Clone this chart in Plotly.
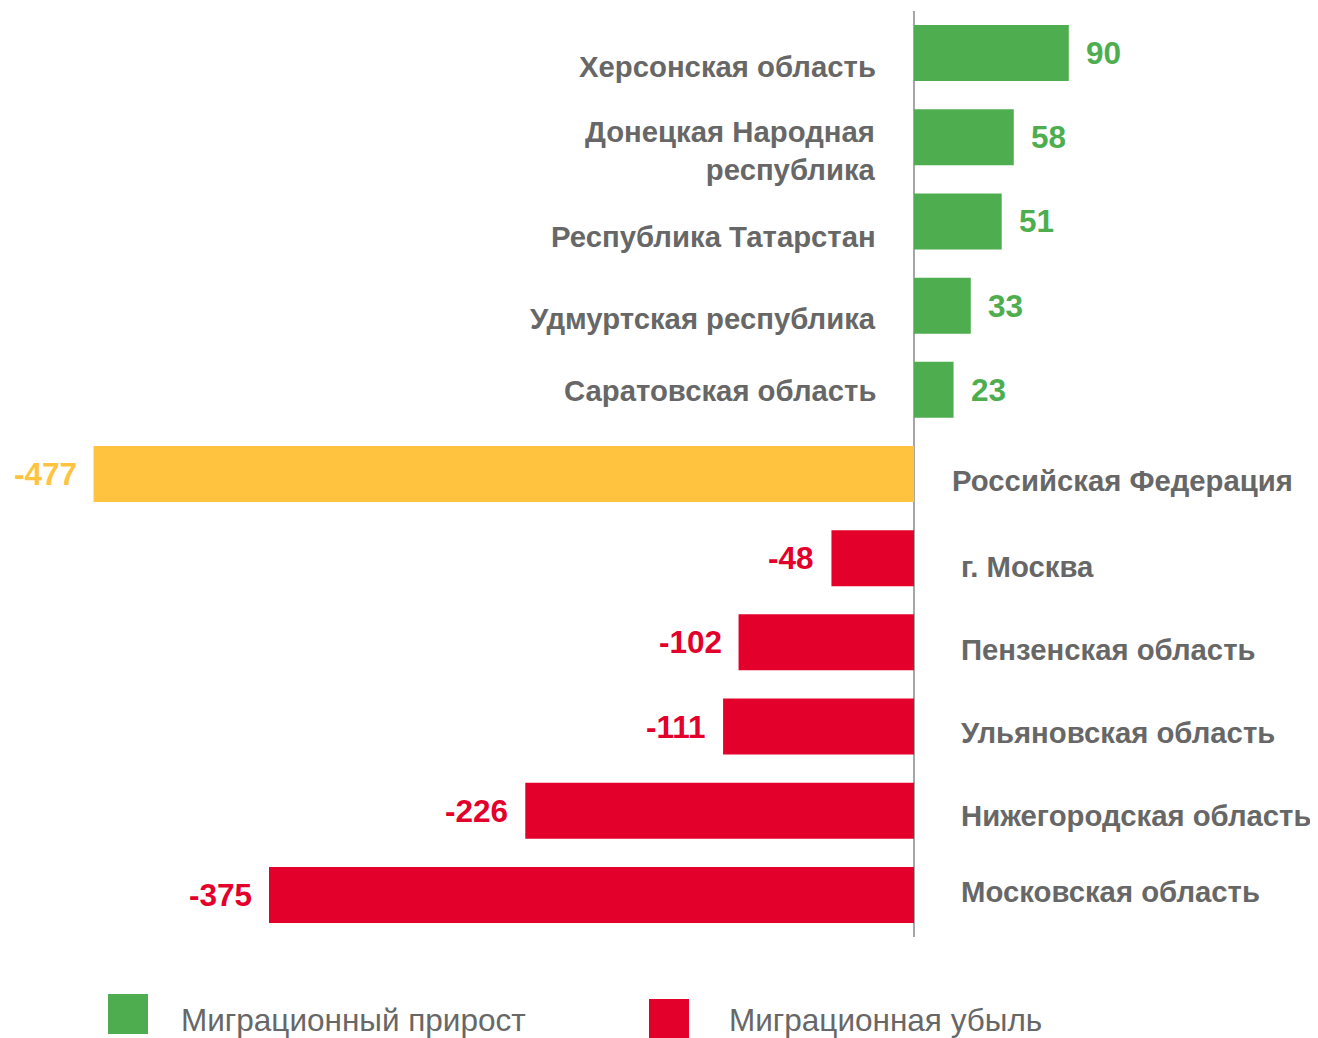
import plotly.graph_objects as go

# ---- data ----
categories = [
    "Херсонская область",
    "Донецкая Народная<br>республика",
    "Республика Татарстан",
    "Удмуртская республика",
    "Саратовская область",
    "Российская Федерация",
    "г. Москва",
    "Пензенская область",
    "Ульяновская область",
    "Нижегородская область",
    "Московская область",
]
values = [90, 58, 51, 33, 23, -477, -48, -102, -111, -226, -375]
kinds = ["gain", "gain", "gain", "gain", "gain", "total", "loss", "loss", "loss", "loss", "loss"]
legend_labels = ["Миграционный прирост", "Миграционная убыль"]

# ---- style ----
COLORS = {"gain": "#4EAE4F", "total": "#FFC340", "loss": "#E3002B"}
TEXT_GRAY = "#676767"
FONT = "Liberation Sans, Arial, sans-serif"
label_dy = [-13, -13, -15, -13, -1, -6, -8, -7, -6, -5, 3]
label_dx_neg = [0, 0, 0, 0, 0, 36, 45, 45, 45, 45, 45]

OFF = 8  # page body margin
W, H = 1318 - OFF, 1038 - OFF
plot_top, plot_bottom = 11 - OFF, 937 - OFF

fig = go.Figure()

for kind in ["gain", "total", "loss"]:
    ys = [c for c, k in zip(categories, kinds) if k == kind]
    xs = [v for v, k in zip(values, kinds) if k == kind]
    fig.add_trace(go.Bar(
        y=ys, x=xs, orientation="h", width=0.665,
        marker=dict(color=COLORS[kind], line=dict(width=0)),
        showlegend=False, hoverinfo="skip",
    ))

annotations = []
for i, (c, v, k) in enumerate(zip(categories, values, kinds)):
    pos = v > 0
    annotations.append(dict(
        x=v, y=c, xref="x", yref="y", text=f"<b>{v}</b>", showarrow=False,
        xanchor="left" if pos else "right", xshift=15 if pos else -15,
        font=dict(family=FONT, size=31.5, color=COLORS[k]),
    ))
    annotations.append(dict(
        x=0, y=c, xref="x", yref="y", text=f"<b>{c}</b>", showarrow=False,
        xanchor="right" if pos else "left", align="right" if pos else "left",
        xshift=-36 if pos else label_dx_neg[i], yshift=label_dy[i],
        font=dict(family=FONT, size=29.3, color=TEXT_GRAY),
    ))

def py(pix):
    return (plot_bottom - (pix - OFF)) / (plot_bottom - plot_top)

def px(pix):
    return (pix - OFF) / W

shapes = [
    dict(type="rect", xref="paper", yref="paper",
         x0=px(108), x1=px(148), y0=py(1034), y1=py(994),
         fillcolor=COLORS["gain"], line=dict(width=0)),
    dict(type="rect", xref="paper", yref="paper",
         x0=px(649), x1=px(689), y0=py(1038), y1=py(999),
         fillcolor=COLORS["loss"], line=dict(width=0)),
]
annotations.append(dict(x=px(179), y=py(1020), xref="paper", yref="paper",
                        text=legend_labels[0], showarrow=False,
                        xanchor="left", yanchor="middle",
                        font=dict(family=FONT, size=31.5, color=TEXT_GRAY)))
annotations.append(dict(x=px(727), y=py(1020), xref="paper", yref="paper",
                        text=legend_labels[1], showarrow=False,
                        xanchor="left", yanchor="middle",
                        font=dict(family=FONT, size=31.5, color=TEXT_GRAY)))

zero_px = 914 - OFF
scale = 1.72
fig.update_layout(
    width=W, height=H,
    margin=dict(l=0, r=0, t=plot_top, b=H - plot_bottom, pad=0),
    paper_bgcolor="white", plot_bgcolor="white",
    barmode="overlay",
    xaxis=dict(range=[-zero_px / scale, (W - zero_px) / scale],
               showgrid=False, showticklabels=False,
               zeroline=True, zerolinecolor="#A6A6A6", zerolinewidth=1.5,
               fixedrange=True),
    yaxis=dict(categoryorder="array", categoryarray=categories,
               autorange="reversed", showticklabels=False, showgrid=False,
               zeroline=False, fixedrange=True),
    annotations=annotations, shapes=shapes,
    showlegend=False,
)

fig.write_html("out.html")
